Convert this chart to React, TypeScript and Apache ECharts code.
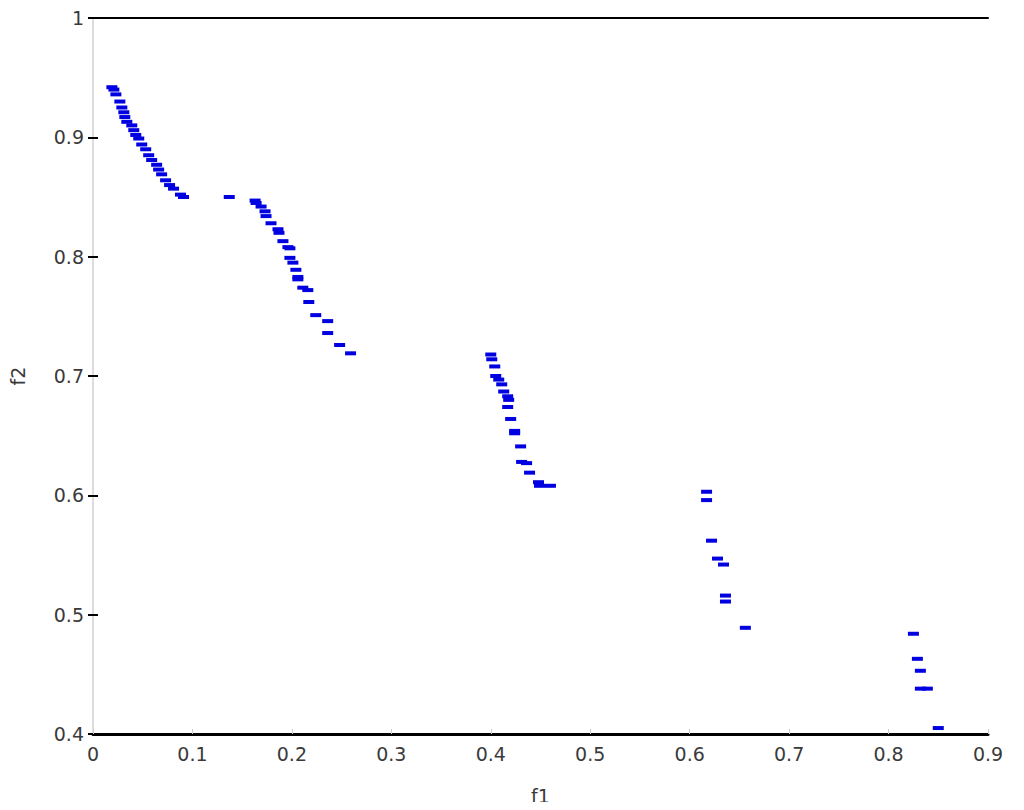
import React, { useEffect, useRef } from "react";
import * as echarts from "echarts";

const xTicks = [0, 0.1, 0.2, 0.3, 0.4, 0.5, 0.6, 0.7, 0.8, 0.9];
const yTicks = [0.4, 0.5, 0.6, 0.7, 0.8, 0.9, 1];

const f1Values = [
  0.019, 0.021, 0.023, 0.027, 0.029, 0.031, 0.032, 0.034, 0.039, 0.041, 0.043, 0.046,
  0.049, 0.053, 0.056, 0.059, 0.064, 0.066, 0.069, 0.073, 0.077, 0.081, 0.088, 0.091,
  0.137,
  0.163, 0.164, 0.169, 0.173, 0.174, 0.179, 0.186, 0.187, 0.191, 0.196, 0.198, 0.198,
  0.201, 0.204, 0.206, 0.206, 0.211, 0.216, 0.217, 0.224, 0.236, 0.236, 0.248, 0.259,
  0.400, 0.401, 0.404, 0.405, 0.408, 0.411, 0.413, 0.417, 0.418, 0.417, 0.420, 0.424,
  0.424, 0.430, 0.431, 0.436, 0.439, 0.448, 0.449, 0.460,
  0.617, 0.617, 0.622, 0.628, 0.634, 0.636, 0.636, 0.656,
  0.825, 0.829, 0.832, 0.832, 0.839, 0.850,
];
const f2Values = [
  0.942, 0.940, 0.936, 0.930, 0.925, 0.921, 0.917, 0.913, 0.910, 0.906, 0.902, 0.899,
  0.894, 0.890, 0.885, 0.881, 0.877, 0.873, 0.869, 0.864, 0.860, 0.857, 0.852, 0.850,
  0.850,
  0.847, 0.845, 0.842, 0.838, 0.834, 0.828, 0.823, 0.820, 0.813, 0.808, 0.807, 0.799,
  0.795, 0.789, 0.783, 0.781, 0.774, 0.772, 0.762, 0.751, 0.746, 0.736, 0.726, 0.719,
  0.718, 0.714, 0.708, 0.700, 0.697, 0.693, 0.687, 0.683, 0.680, 0.674, 0.664, 0.654,
  0.652, 0.641, 0.628, 0.627, 0.619, 0.611, 0.608, 0.608,
  0.603, 0.596, 0.562, 0.547, 0.542, 0.516, 0.511, 0.489,
  0.484, 0.463, 0.453, 0.438, 0.438, 0.405,
];

export default function App() {
  const ref = useRef<HTMLDivElement>(null);
  useEffect(() => {
    if (!ref.current) return;
    const chart = echarts.init(ref.current, undefined, { renderer: "svg" });
    const data = f1Values.map((x, i) => [x, f2Values[i]]);
    const labelStyle = { color: "#3a3a3a", fontSize: 19, fontFamily: "DejaVu Sans" };
    chart.setOption({
      animation: false,
      backgroundColor: "#fff",
      grid: { left: 86, right: 36, top: 18, bottom: 75, containLabel: false },
      xAxis: [
        {
          type: "value",
          min: 0,
          max: 0.9,
          interval: 0.1,
          position: "bottom",
          name: "f1",
          nameLocation: "middle",
          nameGap: 52,
          nameTextStyle: { ...labelStyle },
          axisLine: { lineStyle: { color: "#000", width: 3 } },
          axisTick: { inside: true, length: 5, lineStyle: { color: "#ccc" } },
          axisLabel: { ...labelStyle, margin: 10, formatter: (v: number) => (v === 0 ? "0" : String(+v.toFixed(1))) },
          splitLine: { show: false },
        },
        {
          type: "value",
          min: 0,
          max: 0.9,
          interval: 0.1,
          position: "top",
          axisLine: { lineStyle: { color: "#000", width: 2 } },
          axisTick: { show: false },
          axisLabel: { show: false },
          splitLine: { show: false },
        },
      ],
      yAxis: [
        {
          type: "value",
          min: 0.4,
          max: 1,
          interval: 0.1,
          position: "left",
          name: "f2",
          nameLocation: "middle",
          nameGap: 66,
          nameRotate: 90,
          nameTextStyle: { ...labelStyle },
          axisLine: { show: true, lineStyle: { color: "#bbb", width: 2 } },
          axisTick: { show: true, inside: true, length: 5, lineStyle: { color: "#000", width: 2 } },
          axisLabel: { ...labelStyle, margin: 9, formatter: (v: number) => (v === 1 ? "1" : String(+v.toFixed(1))) },
          splitLine: { show: false },
        },
        {
          type: "value",
          min: 0.4,
          max: 1,
          interval: 0.1,
          position: "right",
          axisLine: { show: true, lineStyle: { color: "#ddd", width: 2 } },
          axisTick: { show: true, inside: true, length: 5, lineStyle: { color: "#000", width: 2 } },
          axisLabel: { show: false },
          splitLine: { show: false },
        },
      ],
      series: [
        {
          type: "scatter",
          xAxisIndex: 0,
          yAxisIndex: 0,
          data,
          symbol: "rect",
          symbolSize: [11, 4],
          itemStyle: { color: "#0000e0", opacity: 1 },
        },
      ],
    });
    return () => chart.dispose();
  }, []);
  return <div ref={ref} style={{ width: 1024, height: 810, margin: -8 }} />;
}
